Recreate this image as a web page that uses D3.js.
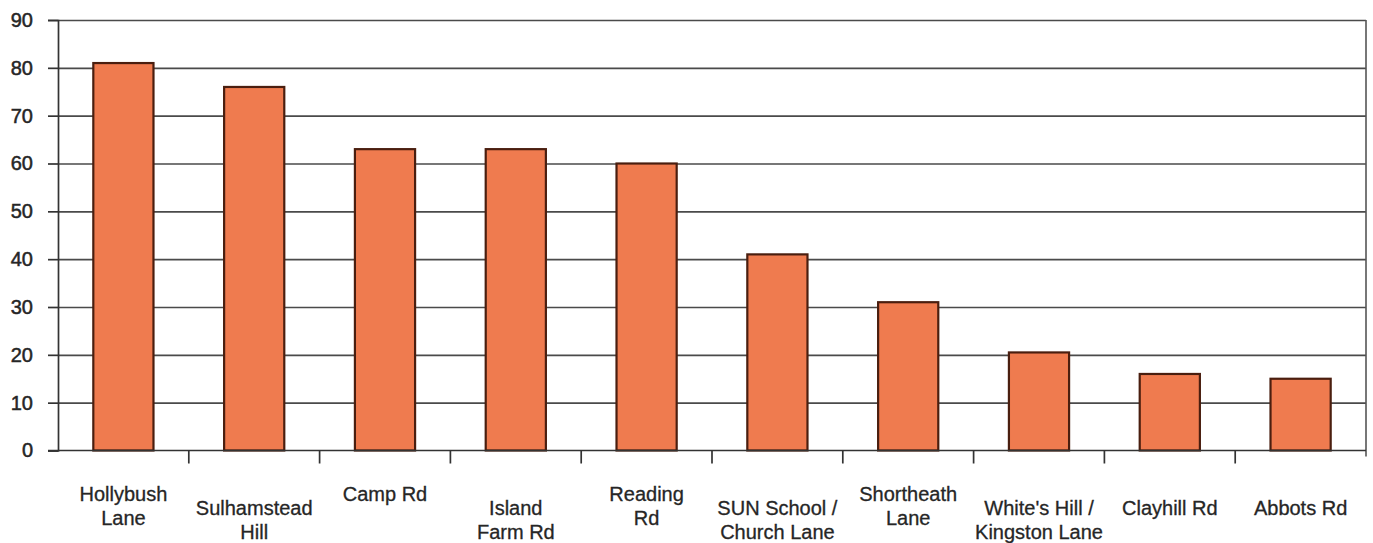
<!DOCTYPE html>
<html>
<head>
<meta charset="utf-8">
<script src="https://cdnjs.cloudflare.com/ajax/libs/d3/7.8.5/d3.min.js"></script>
<style>
  body { margin: 0; background: #fff; }
  text { font-family: "Liberation Sans", Arial, sans-serif; fill: #262626; }
</style>
</head>
<body>
<div id="chart"></div>
<script>
// data
const categories = ["Hollybush\nLane", "Sulhamstead\nHill", "Camp Rd", "Island\nFarm Rd", "Reading\nRd",
                    "SUN School /\nChurch Lane", "Shortheath\nLane", "White's Hill /\nKingston Lane",
                    "Clayhill Rd", "Abbots Rd"];
const values = [81, 76, 63, 63, 60, 41, 31, 20.5, 16, 15];
const yTicks = [0, 10, 20, 30, 40, 50, 60, 70, 80, 90];

// constants
const w = 1373,
      h = 543,
      xL = 58,
      xR = 1366,
      yT = 20,
      yB = 450.5;

let chart = d3.select("#chart")
              .append("svg")
              .attr("width", w)
              .attr("height", h);

let x = d3.scaleBand()
          .domain(categories)
          .range([xL, xR])
          .paddingInner(0.54)
          .paddingOuter(0.27);

let y = d3.scaleLinear()
          .domain([0, 90])
          .range([yB, yT]);

// gridlines
chart.append("g")
     .attr("transform", `translate(${xL}, 0)`)
     .call(d3.axisLeft(y).tickValues(yTicks.slice(1)).tickSize(-(xR - xL)).tickFormat(""))
     .call(g => g.select(".domain").remove())
     .selectAll("line")
     .attr("stroke", "#4a4a4a")
     .attr("stroke-width", 1.7);

// right border
chart.append("line")
     .attr("x1", xR).attr("x2", xR)
     .attr("y1", y(90)).attr("y2", yB + 6)
     .attr("stroke", "#555")
     .attr("stroke-width", 1.6);

// bars
chart.selectAll("rect.bar")
     .data(values)
     .enter()
     .append("rect")
     .attr("class", "bar")
     .attr("x", (d, i) => x(categories[i]))
     .attr("y", d => y(d))
     .attr("width", x.bandwidth())
     .attr("height", d => yB - y(d))
     .attr("fill", "#ef7b4f")
     .attr("stroke", "#4a1e0f")
     .attr("stroke-width", 2.2);

// y axis
let yAxis = chart.append("g")
     .attr("transform", `translate(${xL}, 0)`)
     .call(d3.axisLeft(y).tickValues(yTicks).tickSize(10).tickPadding(15));
yAxis.select(".domain").attr("stroke", "#333").attr("stroke-width", 1.7);
yAxis.selectAll("line").attr("stroke", "#333").attr("stroke-width", 1.7);
yAxis.selectAll("text")
     .style("font-size", "20px")
     .style("fill", "#262626")
     .attr("stroke", "#262626")
     .attr("stroke-width", 0.5);

// x axis line
chart.append("line")
     .attr("x1", xL - 10).attr("x2", xR)
     .attr("y1", yB).attr("y2", yB)
     .attr("stroke", "#333")
     .attr("stroke-width", 1.7);

// category boundary ticks
chart.selectAll("line.xtick")
     .data(categories.slice(0, -1))
     .enter()
     .append("line")
     .attr("class", "xtick")
     .attr("x1", d => x(d) + x.bandwidth() / 2 + x.step() / 2)
     .attr("x2", d => x(d) + x.bandwidth() / 2 + x.step() / 2)
     .attr("y1", yB)
     .attr("y2", yB + 13)
     .attr("stroke", "#333")
     .attr("stroke-width", 1.7);

// category labels (staggered rows)
const labelRow = [0, 1, 0, 1, 0, 1, 0, 1, 1, 1];
chart.selectAll("text.xlabel")
     .data(categories)
     .enter()
     .append("text")
     .attr("class", "xlabel")
     .attr("text-anchor", "middle")
     .style("font-size", "20px")
     .attr("stroke", "#262626")
     .attr("stroke-width", 0.3)
     .attr("transform", (d, i) => `translate(${x(d) + x.bandwidth() / 2}, ${501 + labelRow[i] * 14})`)
     .selectAll("tspan")
     .data(d => d.split("\n"))
     .enter()
     .append("tspan")
     .attr("x", 0)
     .attr("dy", (d, i) => i === 0 ? 0 : 24)
     .text(d => d);
</script>
</body>
</html>
